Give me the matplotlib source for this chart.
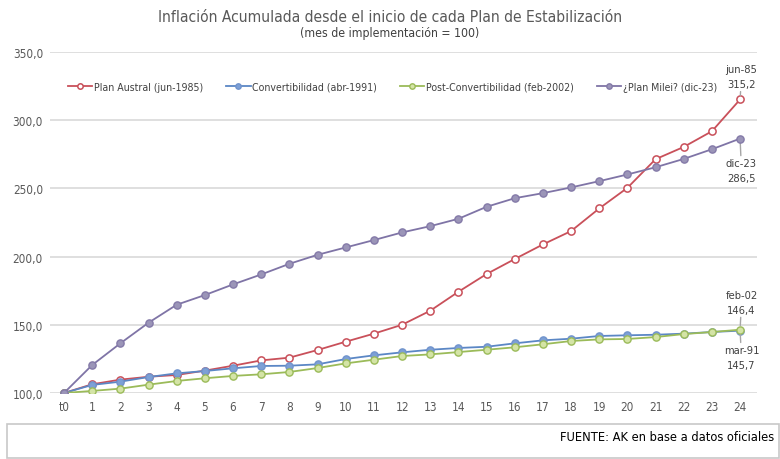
import matplotlib
matplotlib.use("Agg")
import matplotlib.pyplot as plt
from matplotlib.patches import Rectangle

plt.rcParams['font.family'] = ['DejaVu Sans']
plt.rcParams['font.stretch'] = 'condensed'

meses = ['t0'] + [str(i) for i in range(1, 25)]

austral = [100, 106.4, 109.8, 111.9, 113.2, 116.4, 120.0, 123.9, 125.9, 131.5, 137.6, 143.5,
           150.0, 160.3, 174.2, 187.2, 198.2, 208.9, 218.7, 235.3, 250.4, 271.4, 280.4, 291.9, 315.2]
convert = [100, 105.9, 108.3, 111.7, 114.4, 116.1, 118.1, 119.8, 120.0, 121.0, 124.9, 127.6,
           129.8, 131.7, 133.0, 133.9, 136.4, 138.6, 139.8, 141.8, 142.3, 142.7, 143.5, 144.7, 145.7]
postconv = [100, 101.5, 103.2, 106.1, 108.8, 110.8, 112.5, 113.7, 115.4, 118.3, 121.7, 124.4,
            127.1, 128.3, 130.0, 131.7, 133.5, 135.7, 138.1, 139.3, 139.6, 141.0, 143.2, 144.7, 146.4]
milei = [100, 120.5, 136.4, 151.5, 164.7, 171.8, 179.6, 186.9, 194.7, 201.3, 206.7, 212.1,
         217.7, 222.3, 227.7, 236.5, 242.8, 246.5, 250.7, 255.3, 260.2, 265.5, 271.6, 278.7, 286.5]

etiquetas = ['Plan Austral (jun-1985)', 'Convertibilidad (abr-1991)',
             'Post-Convertibilidad (feb-2002)', '¿Plan Milei? (dic-23)']

x = list(range(len(meses)))

fig = plt.figure(figsize=(7.8, 4.6), dpi=100)
ax = fig.add_axes([0.064, 0.1435, 0.9065, 0.7413])

grid_c = '#d9d9d9'
for v in range(100, 351, 50):
    ax.axhline(v, color=grid_c, lw=1.2, zorder=0)

ax.plot(x, austral, color='#c9505a', lw=1.3, marker='o', ms=5.2, mfc='white', mec='#c9505a', mew=1.1, label=etiquetas[0], zorder=3)
ax.plot(x, convert, color='#5b87c5', lw=1.3, marker='o', ms=5.2, mfc='#7da0d6', mec='#7093cc', mew=1.0, label=etiquetas[1], zorder=3)
ax.plot(x, postconv, color='#9bbb59', lw=1.3, marker='o', ms=5.2, mfc='#d4e4a6', mec='#9bbb59', mew=1.0, label=etiquetas[2], zorder=3)
ax.plot(x, milei, color='#7f74a6', lw=1.3, marker='o', ms=5.2, mfc='#9b95b8', mec='#847aa8', mew=1.0, label=etiquetas[3], zorder=4)

ax.set_xlim(-0.5, 24.6)
ax.set_ylim(100, 350)
ax.set_xticks(x)
ax.set_xticklabels(meses)
ax.set_yticks(range(100, 351, 50))
ax.set_yticklabels([f'{v},0' for v in range(100, 351, 50)])
ax.tick_params(length=0, colors='#595959', labelsize=8.5, pad=5)
for s in ax.spines.values():
    s.set_visible(False)

leg = ax.legend(loc='upper left', bbox_to_anchor=(0.012, 0.94), ncol=4, frameon=False,
                fontsize=7.6, handlelength=2.3, columnspacing=2.2, handletextpad=0.15,
                markerscale=0.75, labelcolor='#404040')

# anotaciones al final de cada serie
tc = '#404040'
lc = '#a6a6a6'
last = len(meses) - 1
ax.annotate('jun-85\n315,2', xy=(last, austral[-1]), xytext=(last + 0.05, 323), ha='center', va='bottom',
            fontsize=8, color=tc, linespacing=1.6,
            arrowprops=dict(arrowstyle='-', color=lc, lw=1, shrinkA=0, shrinkB=3))
ax.annotate('dic-23\n286,5', xy=(last, milei[-1]), xytext=(last + 0.05, 272), ha='center', va='top',
            fontsize=8, color=tc, linespacing=1.6,
            arrowprops=dict(arrowstyle='-', color=lc, lw=1, shrinkA=0, shrinkB=3))
ax.annotate('feb-02\n146,4', xy=(last, postconv[-1]), xytext=(last + 0.05, 157.5), ha='center', va='bottom',
            fontsize=8, color=tc, linespacing=1.6,
            arrowprops=dict(arrowstyle='-', color=lc, lw=1, shrinkA=0, shrinkB=3))
ax.annotate('mar-91\n145,7', xy=(last, convert[-1]), xytext=(last + 0.05, 135), ha='center', va='top',
            fontsize=8, color=tc, linespacing=1.6,
            arrowprops=dict(arrowstyle='-', color=lc, lw=1, shrinkA=0, shrinkB=3))

fig.text(0.5, 0.962, 'Inflación Acumulada desde el inicio de cada Plan de Estabilización',
         ha='center', va='center', fontsize=11.2, color='#595959')
fig.text(0.5, 0.928, '(mes de implementación = 100)', ha='center', va='center', fontsize=8.8, color='#404040')

fig.patches.append(Rectangle((0.009, 0.002), 0.99, 0.074, transform=fig.transFigure,
                             fill=False, edgecolor='#c8c8c8', lw=1.2))
fig.text(0.992, 0.048, 'FUENTE: AK en base a datos oficiales', ha='right', va='center', fontsize=9.2, color='black')

fig.savefig('out.png', dpi=100, facecolor='white')
